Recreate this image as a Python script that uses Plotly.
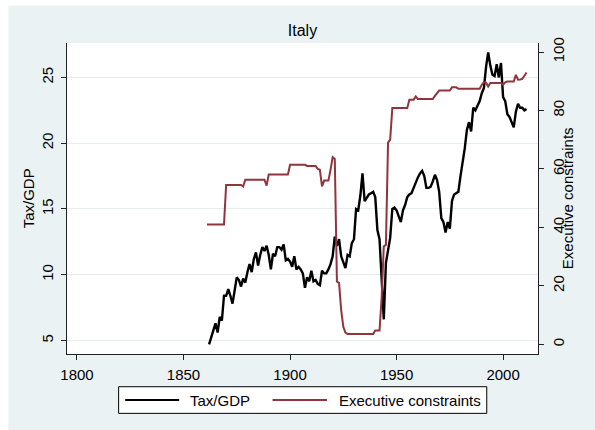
import plotly.graph_objects as go

# Tax revenue as a share of GDP, Italy, one value per year
tax_years = list(range(1862, 2012))
tax_gdp = [
    4.7, 5.3, 5.8, 6.3, 5.6, 6.8, 6.5, 8.4, 8.4,            # 1862-1870
    8.9, 8.4, 7.8, 8.8, 9.8, 9.6, 9.1, 9.7, 9.4, 10.2,      # 1871-1880
    10.8, 10.2, 11.2, 11.7, 10.7, 11.5, 12.1, 11.8, 12.2, 11.5,  # 1881-1890
    10.4, 11.6, 11.4, 12.1, 12.1, 11.9, 12.3, 11.1, 11.2, 11.0,  # 1891-1900
    10.6, 11.4, 10.4, 10.6, 10.4, 10.1, 9.0, 9.8, 9.5, 10.3,     # 1901-1910
    9.5, 9.6, 9.3, 9.2, 10.3, 10.1, 10.1, 10.4, 10.8, 11.4,      # 1911-1920
    12.9, 12.2, 12.7, 11.4, 11.0, 10.5, 11.5, 11.4, 12.4, 12.7,  # 1921-1930
    15.0, 14.9, 16.0, 17.7, 15.6, 15.9, 16.1, 16.2, 16.3, 15.9,  # 1931-1940
    13.4, 12.7, 9.1, 6.6, 10.9, 11.8, 12.8, 15.0, 15.1, 14.9,    # 1941-1950
    14.4, 14.0, 14.9, 15.3, 15.9, 16.1, 16.2, 16.6, 17.1, 17.4,  # 1951-1960
    17.7, 17.9, 17.5, 16.6, 16.6, 16.7, 17.1, 17.6, 17.2, 16.3,  # 1961-1970
    14.3, 14.0, 13.2, 14.0, 13.5, 15.6, 16.1, 16.2, 16.3, 17.5,  # 1971-1980
    18.5, 19.6, 21.0, 21.6, 20.9, 22.7, 22.5, 22.9, 23.2, 23.8,  # 1981-1990
    24.2, 25.8, 26.9, 25.9, 25.2, 25.1, 26.0, 25.0, 26.1, 23.5,  # 1991-2000
    23.2, 22.2, 22.0, 21.6, 21.2, 22.4, 23.0, 22.7, 22.7, 22.5,  # 2001-2010
    22.6,                                                        # 2011
]

# Executive constraints index (0-100), one value per year
exec_years = list(range(1861, 2012))
exec_constraints = [
    41, 41, 41, 41, 41, 41, 41, 41, 41,                          # 1861-1869
    54.5, 54.5, 54.5, 54.5, 54.5, 54.5, 54.5, 54.5, 54, 56.3,    # 1870-1879
    56.3, 56.3, 56.3, 56.3, 56.3, 56.3, 56.3, 56.3, 56.3, 54.3,  # 1880-1889
    58.1, 58.1, 58.1, 58.1, 58.1, 58.1, 58.1, 58.1, 58.1, 58.1,  # 1890-1899
    61.4, 61.4, 61.4, 61.4, 61.4, 61.4, 61.4, 61.4, 61.0, 61.0,  # 1900-1909
    61.0, 61.0, 61.0, 60.0, 59.7, 54.0, 56.0, 56.0, 56.0, 59.7,  # 1910-1919
    64.0, 63.4, 21.5, 21.0, 11.7, 6.0, 4.0, 3.5, 3.5, 3.5,       # 1920-1929
    3.5, 3.5, 3.5, 3.5, 3.5, 3.5, 3.5, 3.5, 3.5, 3.5,            # 1930-1939
    4.7, 4.7, 4.7, 16.0, 33.5, 34.0, 69.0, 70.0, 80.8, 80.8,     # 1940-1949
    80.8, 80.8, 80.8, 80.8, 80.8, 80.8, 83.7, 83.7, 83.7, 84.8,  # 1950-1959
    83.9, 83.9, 83.9, 83.9, 83.9, 83.9, 83.9, 83.9, 85.0, 86.0,  # 1960-1969
    86.8, 86.8, 86.8, 86.8, 86.8, 86.8, 87.9, 87.9, 87.9, 87.4,  # 1970-1979
    87.4, 87.4, 87.4, 87.4, 87.4, 87.4, 87.4, 87.4, 87.4, 87.4,  # 1980-1989
    88.8, 89.7, 89.5, 88.2, 89.4, 89.4, 89.4, 89.4, 89.4, 89.4,  # 1990-1999
    88.8, 89.6, 89.9, 89.9, 89.9, 89.9, 92.2, 90.5, 90.6, 90.8,  # 2000-2009
    91.9, 93.0,                                                  # 2010-2011
]

x_ticks = [1800, 1850, 1900, 1950, 2000]
left_ticks = [5, 10, 15, 20, 25]
right_ticks = [0, 20, 40, 60, 80, 100]

BG = "#eaf2f3"
GRID = "#e4ecee"
MAROON = "#90353b"
FONT = "Liberation Sans, Arial, sans-serif"

fig = go.Figure()
fig.add_trace(go.Scatter(
    x=tax_years, y=tax_gdp, mode="lines", name="Tax/GDP",
    line=dict(color="black", width=2.4), yaxis="y",
))
fig.add_trace(go.Scatter(
    x=exec_years, y=exec_constraints, mode="lines", name="Executive constraints",
    line=dict(color=MAROON, width=2), yaxis="y2",
))

# plot area in pixels: x 66.7-538.3, y 43.3-354 on a 595x430 page
L, R, T, B = 66.7, 538.3, 43.3, 354.0
W, H = R - L, B - T


def px_x(v):
    return (v - L) / W


def px_y(v):
    return (B - v) / H


shapes = [
    # page background with a thin white margin at left and top
    dict(type="rect", xref="paper", yref="paper", layer="below",
         x0=px_x(8), x1=px_x(600), y0=px_y(432), y1=px_y(6),
         fillcolor=BG, line=dict(width=0)),
    # white plotting region
    dict(type="rect", xref="paper", yref="paper", layer="below",
         x0=0, x1=1, y0=0, y1=1, fillcolor="white", line=dict(width=0)),
    # legend frame and line samples
    dict(type="rect", xref="paper", yref="paper",
         x0=px_x(118.4), x1=px_x(487), y0=px_y(413.3), y1=px_y(386.7),
         fillcolor="white", line=dict(color="black", width=1)),
    dict(type="line", xref="paper", yref="paper",
         x0=px_x(125), x1=px_x(179), y0=px_y(400), y1=px_y(400),
         line=dict(color="black", width=2)),
    dict(type="line", xref="paper", yref="paper",
         x0=px_x(272.5), x1=px_x(327), y0=px_y(400), y1=px_y(400),
         line=dict(color=MAROON, width=2)),
]

text_font = dict(family=FONT, size=15, color="black")
annotations = [
    dict(text="Tax/GDP", xref="paper", yref="paper", x=px_x(188), y=px_y(400),
         xanchor="left", yanchor="middle", showarrow=False, font=text_font),
    dict(text="Executive constraints", xref="paper", yref="paper",
         x=px_x(337), y=px_y(400), xanchor="left", yanchor="middle",
         showarrow=False, font=text_font),
    # axis titles
    dict(text="Tax/GDP", xref="paper", yref="paper", x=px_x(28.5), y=0.5,
         xanchor="center", yanchor="middle", textangle=-90,
         showarrow=False, font=text_font),
    dict(text="Executive constraints", xref="paper", yref="paper",
         x=px_x(568), y=0.5, xanchor="center", yanchor="middle",
         textangle=-90, showarrow=False, font=text_font),
]

axis_common = dict(
    showline=True, linecolor="#222", linewidth=1,
    ticks="outside", ticklen=5, tickcolor="#222", tickwidth=1,
    tickfont=dict(family=FONT, size=15, color="black"),
    zeroline=False,
)

fig.update_layout(
    width=595, height=430,
    margin=dict(l=L, r=595 - R, t=T, b=430 - B),
    paper_bgcolor="white", plot_bgcolor="white",
    showlegend=False,
    font=dict(family=FONT, size=15, color="black"),
    title=dict(text="Italy", x=0.5, xref="paper", xanchor="center",
               y=1 - 30 / 430, yref="container", yanchor="middle",
               font=dict(family=FONT, size=16, color="black")),
    xaxis=dict(range=[1795.31, 2016.38], tickvals=x_ticks, showgrid=False,
               ticklabelstandoff=2, **axis_common),
    yaxis=dict(range=[3.97, 27.62], tickvals=left_ticks, tickangle=-90,
               showgrid=True, gridcolor=GRID, gridwidth=1,
               ticklabelstandoff=2, **axis_common),
    yaxis2=dict(range=[-3.32, 103.08], tickvals=right_ticks, tickangle=-90,
                overlaying="y", side="right", showgrid=False,
                ticklabelstandoff=2, **axis_common),
    shapes=shapes,
    annotations=annotations,
)

fig.write_html("out.html")
